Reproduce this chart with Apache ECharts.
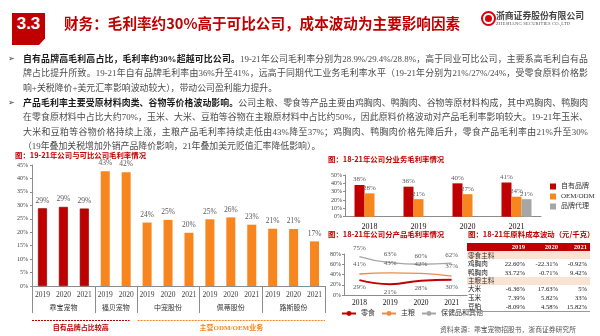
<!DOCTYPE html>
<html><head><meta charset="utf-8">
<script src="https://cdn.jsdelivr.net/npm/echarts/dist/echarts.min.js"></script>
<style>
html,body{margin:0;padding:0;background:#fff;}
#wrap{position:relative;width:600px;height:336px;overflow:hidden;font-family:"Liberation Serif","Noto Sans CJK SC",serif;color:#222;}
#chart{position:absolute;left:0;top:0;width:600px;height:336px;}
.abs{position:absolute;white-space:nowrap;}
.badge{left:12px;top:13px;width:33px;height:32px;background:#C00000;clip-path:polygon(0 0,100% 0,100% 80%,82% 100%,0 100%);color:#fff;font:bold 17px "Liberation Sans",Arial,sans-serif;text-align:center;line-height:22px;}
.title{left:64px;top:13px;font:bold 14.6px "Noto Sans CJK SC",sans-serif;color:#C00000;line-height:20px;}
.logo-c{left:481px;top:11px;width:11px;height:11px;border-radius:50%;border:2px solid #D7000F;background:#fff;}
.logo-d{left:485px;top:15px;width:7px;height:7px;border-radius:50%;background:#D7000F;}
.logo-t{left:496px;top:10px;font:bold 8.8px "Noto Sans CJK SC",sans-serif;color:#444;line-height:11px;}
.logo-e{left:496px;top:21px;font:4.6px "Liberation Serif",serif;color:#555;letter-spacing:0.15px;line-height:6px;}
.para{left:23px;width:565px;font-size:8.9px;line-height:14.5px;color:#4a4a4a;}
.para div{white-space:nowrap;text-align:justify;text-align-last:justify;height:14.5px;}
.para div.last{text-align-last:left;}
.para b{font-weight:bold;color:#1a1a1a;}
.bul{left:8px;font:8px "DejaVu Sans",sans-serif;color:#333;}
table.cost{position:absolute;left:467px;top:242.5px;width:123px;border-collapse:collapse;font-size:6.6px;table-layout:fixed;}
table.cost td{padding:0 3px 0 1px;white-space:nowrap;line-height:7px;}
table.cost tr.hd td{background:#C00000;color:#fff;font-weight:bold;height:8.5px;text-align:right;}
table.cost tr.sec td{background:#FBE3D3;height:8px;color:#333;}
table.cost tr.dt td{height:8.8px;text-align:right;color:#222;}
table.cost tr.dt td:first-child{text-align:left;}
table.cost tr:last-child td{border-bottom:1px solid #999;}
.src{left:440px;top:324px;font:6.8px "Noto Sans CJK SC",sans-serif;color:#555;}
</style></head>
<body>
<div id="wrap">
  <div id="chart"></div>
  <div class="abs badge">3.3</div>
  <div class="abs title">财务：毛利率约30%高于可比公司，成本波动为主要影响因素</div>
  <div class="abs logo-c"></div><div class="abs logo-d"></div>
  <div class="abs logo-t">浙商证券股份有限公司</div>
  <div class="abs logo-e">ZHESHANG SECURITIES CO.,LTD</div>
  <div class="abs bul" style="top:54px">➢</div>
  <div class="abs para" style="top:51.5px">
    <div><b>自有品牌高毛利高占比，毛利率约30%超越可比公司。</b>19-21年公司毛利率分别为28.9%/29.4%/28.8%，高于同业可比公司，主要系高毛利自有品</div>
    <div>牌占比提升所致。19-21年自有品牌毛利率由36%升至41%，远高于同期代工业务毛利率水平（19-21年分别为21%/27%/24%，受零食原料价格影</div>
    <div class="last">响+关税降价+美元汇率影响波动较大），带动公司盈利能力提升。</div>
  </div>
  <div class="abs bul" style="top:98px">➢</div>
  <div class="abs para" style="top:95.5px">
    <div><b>产品毛利率主要受原材料肉类、谷物等价格波动影响。</b>公司主粮、零食等产品主要由鸡胸肉、鸭胸肉、谷物等原材料构成，其中鸡胸肉、鸭胸肉</div>
    <div>在零食原材料中占比大约70%，玉米、大米、豆粕等谷物在主粮原材料中占比约50%，因此原料价格波动对产品毛利率影响较大。19-21年玉米、</div>
    <div>大米和豆粕等谷物价格持续上涨，主粮产品毛利率持续走低由43%降至37%；鸡胸肉、鸭胸肉价格先降后升，零食产品毛利率由21%升至30%</div>
    <div class="last">（19年叠加关税增加外销产品降价影响，21年叠加美元贬值汇率降低影响）。</div>
  </div>
  <div id="tbl"></div>
  <div class="abs src">资料来源：乖宝宠物招股书，浙商证券研究所</div>
</div>
<script>
// ---------- data ----------
const companies = ['乖宝宠物','福贝宠物','中宠股份','佩蒂股份','路斯股份'];
const companyYears = [['2019','2020','2021'],['2019','2020'],['2019','2020','2021'],['2019','2020','2021'],['2019','2020','2021']];
const guaibaoMargin = [28.9, 29.4, 28.8];
const fubeiMargin = [42.7, 42.3];
const zhongchongMargin = [23.6, 24.6, 19.8];
const peidiMargin = [24.8, 25.5, 22.8];
const lusiMargin = [21.3, 21.2, 16.6];
const groupNotes = ['自有品牌占比较高','主营ODM/OEM业务'];

const bizYears = ['2018','2019','2020','2021'];
const ownBrand = [38, 36, 40, 41];
const oemOdm = [28, 21, 27, 24];
const brandAgency = [null, null, null, 21];

const prodYears = ['2018','2019','2020','2021'];
const snackMargin = [29, 21, 28, 30];
const stapleMargin = [41, 43, 42, 37];
const healthMargin = [75, 63, 60, 62];

const costYears = ['2019','2020','2021'];
const snackSection = '零食主料';
const stapleSection = '主粮主料';
const snackItems = ['鸡胸肉','鸭胸肉'];
const chickenCost = ['22.60%','-22.31%','-0.92%'];
const duckCost = ['33.72%','-0.71%','9.42%'];
const stapleItems = ['大米','玉米','豆粕'];
const riceCost = ['-6.36%','17.63%','5%'];
const cornCost = ['7.39%','5.82%','33%'];
const soyCost = ['-8.09%','4.58%','15.82%'];

// ---------- table ----------
(function(){
  const rows = [];
  rows.push('<tr class="hd"><td></td>' + costYears.map(y=>'<td>'+y+'</td>').join('') + '</tr>');
  rows.push('<tr class="sec"><td colspan="4">'+snackSection+'</td></tr>');
  [chickenCost, duckCost].forEach((r,i)=>rows.push('<tr class="dt"><td>'+snackItems[i]+'</td>'+r.map(v=>'<td>'+v+'</td>').join('')+'</tr>'));
  rows.push('<tr class="sec"><td colspan="4">'+stapleSection+'</td></tr>');
  [riceCost, cornCost, soyCost].forEach((r,i)=>rows.push('<tr class="dt"><td>'+stapleItems[i]+'</td>'+r.map(v=>'<td>'+v+'</td>').join('')+'</tr>'));
  document.getElementById('tbl').innerHTML = '<table class="cost"><colgroup><col style="width:28px"><col style="width:33px"><col style="width:33px"><col style="width:29px"></colgroup>' + rows.join('') + '</table>';
})();

// ---------- chart ----------
const RED = '#C00000', ORANGE = '#F7861E', GRAY = '#A6A6A6';
const FONT = '"Liberation Serif","Noto Sans CJK SC",serif';
const compMargins = [guaibaoMargin, fubeiMargin, zhongchongMargin, peidiMargin, lusiMargin];
const catKeys = [], catData = [];
const groupStart = [];
companies.forEach((c, gi) => {
  groupStart.push(catKeys.length);
  companyYears[gi].forEach((y, yi) => {
    catKeys.push(c + '|' + y);
    const isOwn = gi === 0;
    catData.push({value: compMargins[gi][yi], itemStyle: {color: isOwn ? RED : ORANGE, borderColor: isOwn ? '#7F0000' : ORANGE, borderWidth: isOwn ? 0.6 : 0}});
  });
});

const axisLbl = {fontFamily: FONT, color: '#404040'};
const titleStyle = {fontSize: 7.4, color: RED, fontWeight: 'bold', fontFamily: '"Noto Sans CJK SC",sans-serif'};
const option = {
  animation: false,
  textStyle: {fontFamily: FONT},
  title: [
    {text: '图：19-21年公司与可比公司毛利率情况', left: 15, top: 151.5, padding: 0, textStyle: titleStyle},
    {text: '图：18-21年公司分业务毛利率情况', left: 328, top: 155, padding: 0, textStyle: titleStyle},
    {text: '图：18-21年公司分产品毛利率情况', left: 328, top: 230.5, padding: 0, textStyle: titleStyle},
    {text: '图：18-21年原料成本波动（元/千克）', left: 468, top: 230.5, padding: 0, textStyle: titleStyle}
  ],
  grid: [
    {left: 32, top: 165, width: 293, height: 121},
    {left: 345, top: 175, width: 196, height: 41.7},
    {left: 344, top: 254, width: 123, height: 41}
  ],
  legend: [
    {data: ['自有品牌','OEM/ODM','品牌代理'], orient: 'vertical', left: 545, top: 178, itemWidth: 6, itemHeight: 6, itemGap: 3, icon: 'rect', textStyle: {fontSize: 7, color: '#333', fontFamily: FONT}},
    {data: ['零食','主粮','保健品和其他'], left: 336, top: 305, itemWidth: 14, itemHeight: 6, itemGap: 6, textStyle: {fontSize: 7, color: '#333', fontFamily: FONT}}
  ],
  xAxis: [
    {gridIndex: 0, type: 'category', data: catKeys, axisTick: {show: false}, axisLine: {lineStyle: {color: '#8c8c8c'}},
     axisLabel: Object.assign({fontSize: 7.5, margin: 5, interval: 0, formatter: v => v.split('|')[1]}, axisLbl)},
    {gridIndex: 1, type: 'category', data: bizYears, axisTick: {show: false}, axisLine: {lineStyle: {color: '#8c8c8c'}},
     axisLabel: Object.assign({fontSize: 8, margin: 6}, axisLbl, {color: '#111'})},
    {gridIndex: 2, type: 'category', data: prodYears, axisTick: {show: false}, axisLine: {lineStyle: {color: '#8c8c8c'}},
     axisLabel: Object.assign({fontSize: 7.5, margin: 4}, axisLbl, {color: '#111'})}
  ],
  yAxis: [
    {gridIndex: 0, type: 'value', min: 0, max: 45, interval: 5, splitLine: {show: false},
     axisLine: {show: true, lineStyle: {color: '#8c8c8c'}}, axisTick: {show: true, length: 2, lineStyle: {color: '#8c8c8c'}},
     axisLabel: Object.assign({fontSize: 6, margin: 4, formatter: '{value}%'}, axisLbl)},
    {gridIndex: 1, type: 'value', min: 0, max: 50, interval: 10, splitLine: {show: false},
     axisLine: {show: true, lineStyle: {color: '#8c8c8c'}}, axisTick: {show: true, length: 2, lineStyle: {color: '#8c8c8c'}},
     axisLabel: Object.assign({fontSize: 6, margin: 3, formatter: '{value}%'}, axisLbl)},
    {gridIndex: 2, type: 'value', min: 0, max: 80, interval: 20, splitLine: {show: false},
     axisLine: {show: true, lineStyle: {color: '#8c8c8c'}}, axisTick: {show: true, length: 2, lineStyle: {color: '#8c8c8c'}},
     axisLabel: Object.assign({fontSize: 6, margin: 3, formatter: '{value}%'}, axisLbl)}
  ],
  series: [
    {type: 'bar', xAxisIndex: 0, yAxisIndex: 0, data: catData, barWidth: 9,
     label: {show: true, position: 'top', distance: 4, fontSize: 7.5, color: '#595959', fontFamily: FONT, formatter: p => Math.round(p.value) + '%'}},
    {name: '自有品牌', type: 'bar', xAxisIndex: 1, yAxisIndex: 1, data: ownBrand, barWidth: 10, barGap: '0%', itemStyle: {color: RED},
     label: {show: true, position: 'top', distance: 2, fontSize: 7, color: '#595959', fontFamily: FONT, formatter: '{c}%'}},
    {name: 'OEM/ODM', type: 'bar', xAxisIndex: 1, yAxisIndex: 1, data: oemOdm, barWidth: 10, barGap: '0%', itemStyle: {color: ORANGE},
     label: {show: true, position: 'top', distance: 2, fontSize: 7, color: '#595959', fontFamily: FONT, formatter: '{c}%'}},
    {name: '品牌代理', type: 'bar', xAxisIndex: 1, yAxisIndex: 1, data: brandAgency, barWidth: 10, barGap: '0%', itemStyle: {color: GRAY},
     label: {show: true, position: 'top', distance: 2, fontSize: 7, color: '#595959', fontFamily: FONT, formatter: '{c}%'}},
    {name: '零食', type: 'line', xAxisIndex: 2, yAxisIndex: 2, data: snackMargin, smooth: true, symbol: 'circle', symbolSize: 0.01,
     lineStyle: {color: RED, width: 2}, itemStyle: {color: RED},
     label: {show: true, position: 'bottom', distance: 4, fontSize: 7, color: '#595959', fontFamily: FONT, formatter: '{c}%'}},
    {name: '主粮', type: 'line', xAxisIndex: 2, yAxisIndex: 2, data: stapleMargin, smooth: true, symbol: 'circle', symbolSize: 0.01,
     lineStyle: {color: '#EE8A45', width: 1.3}, itemStyle: {color: '#EE8A45'},
     label: {show: true, position: 'top', distance: 6, fontSize: 7, color: '#595959', fontFamily: FONT, formatter: '{c}%'}},
    {name: '保健品和其他', type: 'line', xAxisIndex: 2, yAxisIndex: 2, data: healthMargin, smooth: true, symbol: 'circle', symbolSize: 0.01,
     lineStyle: {color: GRAY, width: 1.3}, itemStyle: {color: GRAY},
     label: {show: true, position: 'top', distance: 5, fontSize: 7, color: '#595959', fontFamily: FONT, formatter: '{c}%'}}
  ]
};

const chart = echarts.init(document.getElementById('chart'), null, {renderer: 'canvas'});
chart.setOption(option);

// multi-level x-axis decorations computed from the category scale
const px = i => chart.convertToPixel({xAxisIndex: 0}, i);
const band = px(1) - px(0);
const bound = i => px(i) - band / 2;
const axisY = chart.convertToPixel({yAxisIndex: 0}, 0);
const g = [];
const bounds = groupStart.concat([catKeys.length]);
bounds.forEach(i => {
  const x = Math.round(bound(i)) + 0.5;
  g.push({type: 'line', shape: {x1: x, y1: axisY, x2: x, y2: axisY + 27}, style: {stroke: '#8c8c8c', lineWidth: 1}, silent: true});
});
companies.forEach((c, gi) => {
  const cx = (bound(bounds[gi]) + bound(bounds[gi + 1])) / 2;
  g.push({type: 'text', x: cx, y: axisY + 22, style: {text: c, fill: '#333', align: 'center', verticalAlign: 'middle', font: '7px ' + FONT}, silent: true});
});
const noteSpans = [[0, 2, RED], [2, 5, ORANGE]];
noteSpans.forEach((s, k) => {
  const x1 = bound(bounds[s[0]]) + (k ? 1 : 0);
  const x2 = bound(bounds[s[1]]) - (k ? 0 : 7);
  g.push({type: 'line', shape: {x1: x1, y1: axisY + 34.5, x2: x2, y2: axisY + 34.5}, style: {stroke: s[2], lineWidth: 1, lineDash: [2, 1]}, silent: true});
  g.push({type: 'text', x: (x1 + x2) / 2, y: axisY + 42, style: {text: groupNotes[k], fill: s[2], align: 'center', verticalAlign: 'middle', font: 'bold 7px ' + FONT}, silent: true});
});
chart.setOption({graphic: g});
</script>
</body></html>
